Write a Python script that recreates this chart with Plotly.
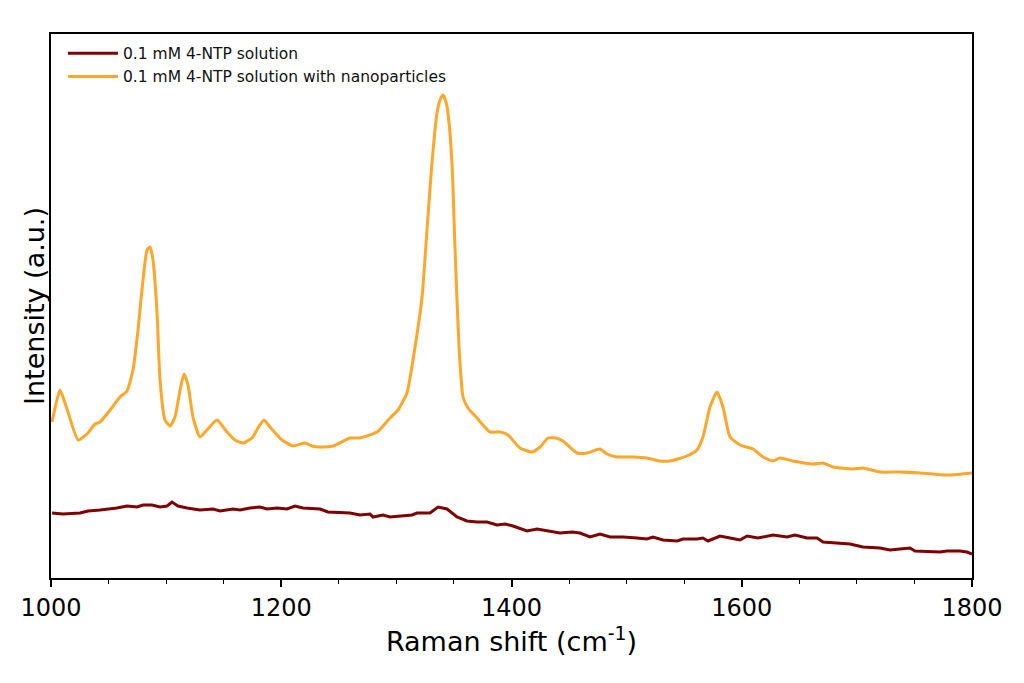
import plotly.graph_objects as go

# Raman shift (cm^-1) and intensity (a.u.)
shift_np = [1000.9, 1007.8, 1013.9, 1023.5, 1032.1, 1038.2, 1042.6, 1051.3, 1059.9, 1066.0,
            1071.2, 1075.6, 1079.0, 1083.4, 1086.0, 1088.6, 1092.1, 1094.7, 1099.0, 1103.4,
            1107.7, 1112.1, 1115.5, 1119.0, 1123.3, 1129.4, 1135.5, 1144.2, 1152.9, 1159.8,
            1166.8, 1174.6, 1179.8, 1185.0, 1190.2, 1200.7, 1210.2, 1220.6, 1226.7, 1233.7,
            1245.0, 1259.7, 1268.4, 1283.2, 1294.5, 1301.4, 1309.2, 1316.2, 1322.3, 1326.6,
            1330.9, 1335.3, 1337.9, 1340.5, 1343.1, 1344.8, 1348.3, 1350.9, 1354.4, 1357.9,
            1362.2, 1370.0, 1381.3, 1390.0, 1397.0, 1407.4, 1417.8, 1424.8, 1431.7, 1438.7,
            1444.7, 1456.9, 1465.6, 1476.9, 1483.0, 1491.6, 1505.5, 1517.7, 1529.0, 1537.7,
            1552.4, 1561.1, 1566.3, 1572.4, 1578.5, 1583.7, 1589.8, 1598.5, 1609.8, 1618.5,
            1627.1, 1633.2, 1644.5, 1661.9, 1670.6, 1679.3, 1696.6, 1705.3, 1720.1, 1737.5,
            1754.8, 1766.1, 1780.9, 1800.0]
intensity_np = [156, 188, 169, 138, 145, 154, 156, 168, 181, 187,
                208, 248, 288, 328, 331, 318, 265, 198, 158, 152,
                161, 188, 204, 193, 161, 141, 148, 158, 146, 138,
                135, 140, 150, 158, 151, 138, 132, 135, 132, 131,
                132, 140, 140, 146, 160, 168, 185, 231, 281, 348,
                415, 465, 478, 483, 476, 465, 415, 331, 231, 181,
                170, 160, 146, 146, 143, 130, 126, 131, 140, 140,
                137, 125, 125, 129, 124, 121, 121, 120, 117, 117,
                122, 128, 141, 171, 186, 171, 141, 133, 129, 121,
                117, 120, 117, 114, 115, 111, 109, 110, 106, 106,
                105, 104, 103, 105]

shift_sol = [1000.9, 1010.4, 1025.2, 1032.1, 1042.6, 1051.3, 1057.3, 1066.0, 1074.7, 1079.9,
             1087.7, 1094.7, 1100.8, 1105.1, 1110.3, 1118.1, 1129.4, 1140.7, 1146.8, 1158.1,
             1164.2, 1172.9, 1181.5, 1187.6, 1196.3, 1205.0, 1211.9, 1218.9, 1233.7, 1240.6,
             1259.7, 1268.4, 1277.1, 1279.7, 1288.4, 1294.5, 1305.8, 1313.6, 1317.9, 1329.2,
             1336.2, 1344.0, 1352.7, 1361.3, 1370.0, 1378.7, 1387.4, 1394.4, 1401.3, 1413.5,
             1422.2, 1430.8, 1442.1, 1452.6, 1459.5, 1468.2, 1476.9, 1485.6, 1496.9, 1509.0,
             1517.7, 1522.9, 1531.6, 1543.8, 1549.0, 1561.1, 1566.3, 1570.7, 1581.1, 1589.8,
             1598.5, 1604.6, 1614.1, 1627.1, 1639.3, 1646.3, 1656.7, 1665.4, 1670.6, 1694.0,
             1705.3, 1720.1, 1728.8, 1737.5, 1746.1, 1750.5, 1763.5, 1772.2, 1778.3, 1789.6,
             1795.7, 1800.0]
intensity_sol = [65, 64, 65, 67, 68, 69, 70, 72, 71, 73,
                 73, 71, 72, 76, 72, 70, 68, 69, 67, 69,
                 68, 70, 71, 69, 70, 69, 72, 70, 69, 66,
                 65, 63, 64, 61, 63, 61, 62, 63, 65, 65,
                 71, 69, 61, 57, 56, 56, 53, 54, 52, 47,
                 49, 47, 45, 46, 45, 41, 44, 41, 41, 40,
                 39, 41, 38, 37, 39, 39, 40, 37, 42, 40,
                 38, 42, 40, 43, 41, 43, 40, 40, 36, 34,
                 31, 30, 28, 29, 30, 27, 26, 26, 27, 27,
                 26, 24]

x_ticks = [1000, 1200, 1400, 1600, 1800]

FONT = "DejaVu Sans"

fig = go.Figure()
fig.add_trace(go.Scatter(x=shift_sol, y=intensity_sol, mode="lines",
                         name="0.1 mM 4-NTP solution",
                         line=dict(color="#7f0000", width=3)))
fig.add_trace(go.Scatter(x=shift_np, y=intensity_np, mode="lines",
                         name="0.1 mM 4-NTP solution with nanoparticles",
                         line=dict(color="#ffa62b", width=3, shape="spline", smoothing=0.5)))

fig.update_layout(
    width=1024, height=683,
    margin=dict(l=43, r=60, t=26, b=113),
    plot_bgcolor="white", paper_bgcolor="white",
    font=dict(family=FONT, color="black"),
    showlegend=True,
    legend=dict(x=0.013, y=0.995, xanchor="left", yanchor="top",
                bgcolor="rgba(0,0,0,0)", borderwidth=0,
                font=dict(family=FONT, size=15.5, color="#111"),
                tracegroupgap=0, itemwidth=50),
    xaxis=dict(range=[1000, 1800], tickvals=x_ticks, ticktext=[str(v) for v in x_ticks],
               ticks="outside", ticklen=7, tickwidth=1.5, tickcolor="black",
               minor=dict(dtick=50, tick0=1000, ticks="outside", ticklen=4, tickwidth=1.2,
                          tickcolor="black", showgrid=False),
               showline=True, linecolor="black", linewidth=1.5, mirror=True,
               showgrid=False, zeroline=False, automargin=False,
               tickfont=dict(family=FONT, size=24),
               title=dict(text="Raman shift (cm<sup>-1</sup>)", font=dict(family=FONT, size=27),
                          standoff=10)),
    yaxis=dict(range=[0, 544], showticklabels=False, ticks="",
               showline=True, linecolor="black", linewidth=1.5, mirror=True,
               showgrid=False, zeroline=False, automargin=False),
    annotations=[dict(text="Intensity (a.u.)", textangle=-90, showarrow=False,
                      xref="paper", yref="paper", x=0, y=0.5,
                      xanchor="center", yanchor="middle", xshift=-17,
                      font=dict(family=FONT, size=27, color="black"))],
)

fig.write_html("out.html")
